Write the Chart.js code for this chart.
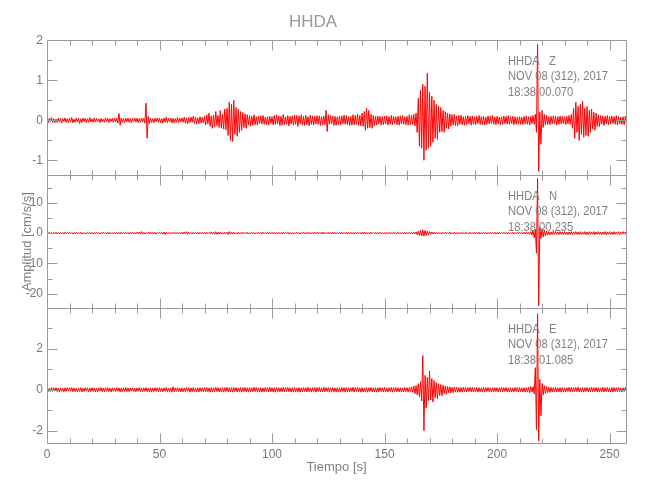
<!DOCTYPE html>
<html>
<head>
<meta charset="utf-8">
<script src="https://cdn.jsdelivr.net/npm/chart.js@4.4.1/dist/chart.umd.min.js"></script>
<style>
  body { margin: 0; background: #fff; }
  #wrap { width: 650px; height: 500px; }
</style>
</head>
<body>
<div id="wrap"><canvas id="seis" width="650" height="500"></canvas></div>
<script>
// sample interval of the traces (s)
var dt = 0.5;

// HHDA Z, in 0.01 cm/s/s, one row = 10 s
var zTrace = [
  4,-6,5,-3,7,-5,4,-6,3,-5,6,-4,5,-7,4,-3,6,-5,4,-6,
  5,-4,7,-6,3,-5,6,-4,5,-8,4,-5,6,-3,5,-6,4,-5,7,-4,
  4,-5,6,-4,5,-3,4,-6,5,-4,3,-5,6,-4,5,-6,4,-3,5,-5,
  6,-4,5,-7,17,-12,6,-5,4,-6,5,-4,6,-5,4,-6,5,-3,6,-4,
  5,-6,4,-5,6,-4,5,-7,43,-45,10,-8,6,-5,4,-6,5,-4,6,-5,
  5,-6,4,-7,6,-5,8,-6,5,-4,6,-7,5,-6,4,-5,7,-6,5,-4,
  6,-5,8,-7,6,-9,7,-6,8,-5,10,-8,7,-9,6,-8,9,-7,8,-6,
  10,-12,14,-9,18,-15,11,-20,13,-16,22,-14,12,-18,25,-20,15,-22,28,-24,
  30,-38,45,-50,40,-53,50,-35,32,-40,28,-30,22,-25,20,-18,16,-20,14,-12,
  12,-15,10,-13,14,-11,9,-12,10,-8,11,-9,12,-10,8,-11,9,-12,10,-8,
  9,-11,12,-10,14,-9,11,-13,10,-12,15,-11,9,-10,12,-14,10,-9,11,-12,
  13,-10,12,-15,11,-9,14,-12,10,-13,12,-11,9,-14,13,-10,11,-12,10,-9,
  12,-10,11,-13,9,-12,10,-11,25,-28,14,-10,12,-9,11,-13,10,-12,9,-11,
  10,-12,11,-9,13,-10,12,-11,9,-13,10,-12,14,-11,12,-10,15,-13,12,-14,
  18,-15,22,-25,30,-20,25,-18,15,-20,12,-14,10,-12,11,-9,10,-12,9,-11,
  10,-9,11,-12,9,-10,12,-11,10,-8,9,-11,10,-12,11,-9,12,-10,9,-11,
  10,-12,14,-11,12,-10,15,-14,18,-30,55,-65,75,-70,90,-100,85,-75,118,-70,
  70,-65,60,-55,50,-45,40,-48,35,-30,32,-28,25,-30,22,-20,18,-22,16,-15,
  14,-12,15,-13,11,-14,12,-10,13,-11,9,-12,10,-11,12,-9,10,-12,11,-10,
  9,-11,10,-8,12,-10,9,-11,10,-12,8,-10,11,-9,10,-8,12,-10,9,-11,
  10,-9,8,-11,9,-10,11,-8,10,-9,12,-10,9,-8,10,-11,9,-10,8,-9,
  9,-10,8,-11,10,-9,11,-10,9,-12,10,-8,12,-10,15,-30,190,-128,20,-60,
  25,-18,15,-12,13,-10,9,-11,10,-9,11,-8,10,-12,9,-10,11,-9,10,-8,
  9,-11,10,-9,12,-10,15,-20,30,-45,45,-30,35,-50,40,-35,48,-42,30,-38,
  35,-40,25,-30,28,-22,20,-25,18,-15,14,-16,12,-10,11,-13,10,-9,12,-11,
  10,-9,11,-8,9,-10,12,-11,10,-9,8,-10,9,-11,10,-8
];

// HHDA N, in 0.1 cm/s/s
var nTrace = [
  2,-2,3,-2,2,-3,2,-2,3,-2,2,-3,2,-2,2,-3,3,-2,2,-2,
  3,-2,2,-3,2,-2,3,-2,2,-2,3,-3,2,-2,2,-3,2,-2,3,-2,
  2,-3,2,-2,3,-2,2,-3,2,-2,3,-2,2,-2,3,-3,2,-2,2,-3,
  2,-2,3,-2,2,-3,3,-2,2,-2,3,-2,2,-3,2,-2,3,-2,2,-3,
  3,-2,4,-3,5,-4,3,-3,2,-2,3,-2,4,-3,2,-2,3,-3,2,-2,
  3,-2,2,-3,4,-5,3,-2,2,-3,2,-2,3,-2,2,-3,3,-2,2,-2,
  3,-3,4,-3,5,-4,3,-2,2,-3,3,-2,2,-2,3,-3,2,-2,3,-2,
  2,-3,3,-2,2,-2,4,-3,3,-4,5,-4,3,-3,4,-3,2,-3,3,-2,
  3,-4,5,-4,4,-3,3,-2,2,-3,3,-2,2,-3,3,-2,2,-2,3,-3,
  2,-2,3,-2,2,-3,2,-2,3,-2,2,-3,3,-2,2,-2,3,-3,2,-2,
  3,-2,2,-3,2,-2,3,-2,2,-3,3,-2,2,-2,3,-3,2,-2,2,-3,
  2,-2,3,-2,2,-3,2,-2,3,-3,2,-2,3,-2,2,-3,2,-2,3,-2,
  3,-2,2,-3,4,-3,3,-2,2,-2,3,-3,2,-2,3,-2,2,-3,2,-2,
  2,-3,3,-2,2,-2,3,-3,2,-2,3,-2,2,-3,2,-2,3,-2,2,-3,
  3,-2,4,-3,3,-2,2,-3,3,-2,2,-2,3,-3,2,-2,3,-2,2,-2,
  2,-3,2,-2,3,-2,2,-3,3,-2,2,-2,3,-2,2,-3,2,-2,3,-3,
  2,-2,3,-2,2,-3,3,-2,4,-5,7,-8,10,-9,11,-10,9,-8,7,-6,
  5,-4,4,-3,3,-3,2,-2,3,-2,2,-3,2,-2,3,-2,2,-2,3,-3,
  2,-2,3,-2,2,-3,2,-2,3,-2,2,-3,3,-2,2,-2,3,-2,2,-3,
  3,-2,2,-2,3,-3,2,-2,3,-2,2,-3,2,-2,3,-2,2,-2,3,-3,
  2,-3,3,-2,2,-2,3,-2,2,-3,3,-2,2,-2,3,-3,2,-2,3,-2,
  3,-2,2,-3,3,-2,4,-3,3,-4,5,-6,8,-15,12,-66,180,-240,20,-18,
  15,-12,10,-8,7,-6,5,-5,4,-5,6,-4,5,-4,4,-5,5,-4,4,-5,
  5,-4,4,-5,4,-4,5,-5,4,-4,5,-4,4,-5,5,-4,4,-4,5,-5,
  4,-5,5,-4,4,-4,5,-5,4,-4,5,-4,4,-5,4,-4,5,-5,4,-4,
  5,-4,4,-5,5,-4,4,-4,5,-5,4,-4,5,-4,4,-5
];

// HHDA E, in 0.01 cm/s/s
var eTrace = [
  8,-10,7,-9,11,-8,9,-7,10,-9,8,-11,9,-8,7,-10,9,-8,10,-7,
  9,-8,11,-10,8,-9,7,-10,9,-8,10,-11,8,-9,10,-7,9,-10,8,-9,
  10,-8,9,-11,8,-10,9,-7,11,-9,8,-10,9,-8,10,-9,7,-11,9,-8,
  8,-9,10,-8,9,-11,8,-10,9,-8,11,-9,8,-10,9,-7,10,-9,8,-10,
  9,-8,10,-9,8,-11,9,-8,10,-9,8,-10,9,-11,8,-9,10,-8,9,-10,
  10,-9,8,-10,9,-8,11,-9,8,-10,9,-12,14,-10,9,-8,10,-9,8,-11,
  9,-10,8,-9,11,-8,10,-12,9,-10,11,-9,8,-10,9,-11,10,-8,9,-10,
  10,-9,11,-10,9,-12,10,-11,9,-10,12,-9,10,-11,9,-10,11,-12,10,-9,
  12,-10,9,-11,10,-12,11,-9,10,-11,9,-10,11,-12,10,-9,11,-10,9,-12,
  10,-11,9,-10,12,-9,11,-10,9,-11,10,-12,9,-10,11,-9,10,-11,12,-10,
  9,-11,10,-12,11,-9,10,-11,9,-10,12,-11,10,-9,11,-10,9,-12,10,-11,
  11,-10,9,-11,10,-12,9,-10,11,-9,10,-11,12,-10,9,-11,10,-9,11,-12,
  10,-9,11,-10,9,-11,12,-10,10,-9,11,-12,10,-9,11,-10,9,-11,10,-12,
  9,-10,11,-9,10,-12,11,-10,9,-11,10,-9,12,-11,10,-9,11,-10,9,-12,
  10,-11,9,-10,11,-12,10,-9,11,-10,9,-11,10,-12,9,-10,11,-9,10,-11,
  12,-10,9,-11,10,-9,11,-12,10,-9,11,-10,9,-11,10,-12,9,-10,11,-9,
  10,-12,11,-10,14,-12,18,-20,20,-25,30,-35,40,-55,166,-200,70,-90,60,-55,
  90,-50,55,-60,45,-40,35,-45,30,-28,25,-30,22,-20,18,-22,16,-15,14,-16,
  12,-14,13,-11,12,-13,11,-12,10,-11,12,-10,11,-12,10,-9,11,-10,12,-11,
  10,-9,11,-12,10,-11,9,-10,11,-12,10,-9,11,-10,9,-11,10,-12,11,-9,
  10,-11,9,-10,12,-11,10,-9,11,-10,9,-12,10,-11,9,-10,11,-9,10,-12,
  11,-10,9,-11,10,-12,11,-10,12,-14,15,-12,15,-20,107,-195,370,-250,50,-127,
  30,-25,20,-18,15,-14,12,-13,11,-12,10,-11,12,-10,9,-11,10,-12,11,-10,
  9,-11,10,-9,12,-10,11,-12,10,-9,11,-10,12,-11,9,-10,11,-12,10,-9,
  11,-10,9,-11,12,-10,10,-9,11,-12,10,-11,9,-10,12,-11,10,-9,11,-10,
  9,-11,10,-12,11,-9,10,-11,12,-10,9,-11,10,-9,11,-10
];

var zHeader = ['HHDA   Z', 'NOV 08 (312), 2017', '18:38:00.070'];
var nHeader = ['HHDA   N', 'NOV 08 (312), 2017', '18:38:00.235'];
var eHeader = ['HHDA   E', 'NOV 08 (312), 2017', '18:38:01.085'];

var timeMax = 257.3;

function toPoints(trace, unit) {
    return trace.map(function (v, i) { return { x: i * dt, y: v * unit }; });
}

Chart.defaults.font.family = '"Liberation Sans", Arial, sans-serif';

var AXIS = '#9a9a9a';
var TXT = '#808080';

// frames, inward ticks on all sides and the header text of each panel
var framePlugin = {
    id: 'frames',
    afterDatasetsDraw: function (chart) {
        var ctx = chart.ctx, area = chart.chartArea, xs = chart.scales.x;
        var headers = { yZ: zHeader, yN: nHeader, yE: eHeader };
        ctx.save();
        ctx.strokeStyle = AXIS;
        ctx.lineWidth = 1;
        var L = Math.round(area.left) + 0.5, R = Math.round(area.right) + 0.5;
        ['yZ', 'yN', 'yE'].forEach(function (id) {
            var ys = chart.scales[id];
            var top = Math.round(ys.top) + 0.5, bot = Math.round(ys.bottom) + 0.5;
            ctx.beginPath();
            ctx.rect(L, top, R - L, bot - top);
            xs.ticks.forEach(function (t) {
                var px = Math.round(xs.getPixelForValue(t.value)) + 0.5;
                var len = t.label !== '' ? 10 : 5;
                ctx.moveTo(px, top); ctx.lineTo(px, top + len);
                ctx.moveTo(px, bot); ctx.lineTo(px, bot - len);
            });
            ys.ticks.forEach(function (t) {
                var py = Math.round(ys.getPixelForValue(t.value)) + 0.5;
                var len = t.label !== '' ? 10 : 5;
                ctx.moveTo(L, py); ctx.lineTo(L + len, py);
                ctx.moveTo(R, py); ctx.lineTo(R - len, py);
            });
            ctx.stroke();

            ctx.fillStyle = TXT;
            ctx.font = '13px "Liberation Sans", Arial, sans-serif';
            ctx.textBaseline = 'middle';
            ctx.textAlign = 'left';
            headers[id].forEach(function (line, k) {
                ctx.save();
                ctx.translate(area.right - 118, ys.top + 21 + k * 15.5);
                ctx.scale(0.86, 1);
                ctx.fillText(line, 0, 0);
                ctx.restore();
            });
        });
        ctx.restore();
    }
};

function yAxis(min, max, step, major, weight, sw, title) {
    return {
        type: 'linear',
        position: 'left',
        stack: 'traces',
        stackWeight: sw,
        weight: weight,
        min: min,
        max: max,
        grid: { display: false, drawTicks: false },
        border: { display: false },
        ticks: {
            stepSize: step,
            includeBounds: false,
            autoSkip: false,
            padding: 4,
            color: '#777',
            font: { size: 12 },
            callback: function (v) {
                var r = Math.round(v * 1000) / 1000;
                return Math.abs(r / major - Math.round(r / major)) < 1e-6 ? String(r) : '';
            }
        },
        title: title || { display: false },
        afterFit: function (s) { s.width = 47; }
    };
}

new Chart(document.getElementById('seis'), {
    type: 'line',
    data: {
        datasets: [
            { data: toPoints(zTrace, 0.01), yAxisID: 'yZ' },
            { data: toPoints(nTrace, 0.1), yAxisID: 'yN' },
            { data: toPoints(eTrace, 0.01), yAxisID: 'yE' }
        ]
    },
    options: {
        responsive: false,
        animation: false,
        events: [],
        layout: { padding: { left: 0, right: 24, top: 0, bottom: 0 } },
        elements: {
            line: { borderColor: '#ff0000', borderWidth: 1, tension: 0, borderJoinStyle: 'bevel', fill: false },
            point: { radius: 0 }
        },
        scales: {
            x: {
                type: 'linear',
                min: 0,
                max: timeMax,
                grid: { display: false, drawTicks: false },
                border: { display: false },
                ticks: {
                    stepSize: 10,
                    includeBounds: false,
                    autoSkip: false,
                    maxRotation: 0,
                    padding: 4,
                    color: '#777',
                    font: { size: 12 },
                    callback: function (v) { return v % 50 === 0 ? String(v) : ''; }
                },
                title: { display: true, text: 'Tiempo [s]', color: TXT, font: { size: 13 }, padding: { top: 0, bottom: 25 } },
                afterFit: function (s) { s.height = 57; }
            },
            yE: yAxis(-2.6, 3.98, 1, 2, 1, 135),
            yN: yAxis(-24.75, 19.1, 5, 10, 2, 133,
                { display: true, text: 'Amplitud [cm/s/s]', color: TXT, font: { size: 13 }, padding: { top: 20, bottom: 0 } }),
            yZ: yAxis(-1.375, 2, 0.5, 1, 3, 135)
        },
        plugins: {
            legend: { display: false },
            tooltip: { enabled: false },
            title: {
                display: true,
                text: 'HHDA',
                color: '#999',
                font: { size: 17, weight: 'normal' },
                padding: { top: 12, bottom: 8 }
            }
        }
    },
    plugins: [framePlugin]
});
</script>
</body>
</html>
